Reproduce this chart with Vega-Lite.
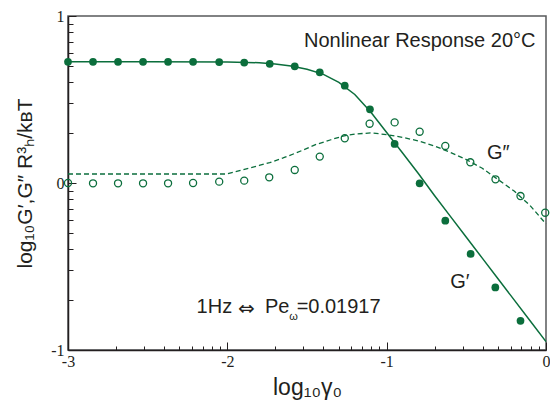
{
  "$schema": "https://vega.github.io/schema/vega-lite/v6.json",
  "width": 478,
  "height": 334,
  "autosize": {"type": "none"},
  "padding": {"left": 68, "top": 16, "right": 4, "bottom": 51},
  "background": "white",
  "config": {
    "view": {"stroke": "#58595b", "strokeWidth": 1.5},
    "axis": {
      "grid": false,
      "labelFont": "Liberation Serif",
      "labelFontSize": 16,
      "labelColor": "#231f20",
      "titleFont": "Liberation Sans",
      "titleFontSize": 23,
      "titleFontWeight": "normal",
      "titleColor": "#231f20",
      "domainColor": "#231f20",
      "domainWidth": 1.5,
      "tickColor": "#231f20",
      "tickWidth": 1
    }
  },
  "resolve": {"axis": {"x": "independent", "y": "independent"}},
  "datasets": {
    "gp": [
      {"x": -3.0, "y": 0.726}, {"x": -2.843, "y": 0.726}, {"x": -2.686, "y": 0.726},
      {"x": -2.529, "y": 0.726}, {"x": -2.372, "y": 0.726}, {"x": -2.215, "y": 0.726},
      {"x": -2.051, "y": 0.724}, {"x": -1.894, "y": 0.721}, {"x": -1.734, "y": 0.714},
      {"x": -1.577, "y": 0.699}, {"x": -1.42, "y": 0.663}, {"x": -1.263, "y": 0.583},
      {"x": -1.105, "y": 0.441}, {"x": -0.95, "y": 0.234}, {"x": -0.793, "y": -0.002},
      {"x": -0.632, "y": -0.226}, {"x": -0.473, "y": -0.425}, {"x": -0.318, "y": -0.625},
      {"x": -0.16, "y": -0.825}
    ],
    "gpp": [
      {"x": -3.0, "y": 0.0}, {"x": -2.843, "y": -0.002}, {"x": -2.686, "y": -0.002},
      {"x": -2.529, "y": -0.002}, {"x": -2.372, "y": -0.002}, {"x": -2.215, "y": 0.0},
      {"x": -2.051, "y": 0.008}, {"x": -1.894, "y": 0.014}, {"x": -1.737, "y": 0.034},
      {"x": -1.577, "y": 0.078}, {"x": -1.42, "y": 0.158}, {"x": -1.263, "y": 0.268},
      {"x": -1.107, "y": 0.355}, {"x": -0.95, "y": 0.363}, {"x": -0.793, "y": 0.307},
      {"x": -0.632, "y": 0.222}, {"x": -0.475, "y": 0.124}, {"x": -0.317, "y": 0.022},
      {"x": -0.16, "y": -0.078}, {"x": -0.005, "y": -0.178}
    ],
    "gpfit": [
      {"x": -3.0, "y": 0.726}, {"x": -2.5, "y": 0.726}, {"x": -2.0, "y": 0.725},
      {"x": -1.8, "y": 0.72}, {"x": -1.7, "y": 0.713}, {"x": -1.6, "y": 0.701},
      {"x": -1.5, "y": 0.681}, {"x": -1.4, "y": 0.652}, {"x": -1.3, "y": 0.603},
      {"x": -1.2, "y": 0.53}, {"x": -1.1, "y": 0.425}, {"x": -1.0, "y": 0.302},
      {"x": -0.9, "y": 0.18}, {"x": -0.8, "y": 0.055}, {"x": -0.7, "y": -0.075},
      {"x": -0.6, "y": -0.2}, {"x": -0.5, "y": -0.325}, {"x": -0.4, "y": -0.45},
      {"x": -0.3, "y": -0.575}, {"x": -0.2, "y": -0.7}, {"x": -0.1, "y": -0.825},
      {"x": 0.0, "y": -0.95}
    ],
    "gppfit": [
      {"x": -3.0, "y": 0.054}, {"x": -2.5, "y": 0.054}, {"x": -2.005, "y": 0.054},
      {"x": -1.9, "y": 0.08}, {"x": -1.8, "y": 0.105}, {"x": -1.734, "y": 0.122},
      {"x": -1.65, "y": 0.15}, {"x": -1.566, "y": 0.181}, {"x": -1.5, "y": 0.207},
      {"x": -1.44, "y": 0.232}, {"x": -1.35, "y": 0.259}, {"x": -1.274, "y": 0.281},
      {"x": -1.2, "y": 0.293}, {"x": -1.1, "y": 0.3}, {"x": -1.0, "y": 0.29},
      {"x": -0.9, "y": 0.273}, {"x": -0.8, "y": 0.252}, {"x": -0.7, "y": 0.222},
      {"x": -0.6, "y": 0.183}, {"x": -0.5, "y": 0.14}, {"x": -0.4, "y": 0.088},
      {"x": -0.3, "y": 0.02}, {"x": -0.2, "y": -0.048}, {"x": -0.1, "y": -0.135},
      {"x": 0.0, "y": -0.245}
    ],
    "notesLeft": [
      {"x": -0.371, "y": 0.144, "text": "G″"},
      {"x": -0.601, "y": -0.631, "text": "G′"},
      {"x": -2.193, "y": -0.78, "text": "1Hz"},
      {"x": -1.764, "y": -0.78, "text": "Pe"}
    ],
    "notesRight": [
      {"x": -0.066, "y": 0.816, "text": "Nonlinear Response 20°C"},
      {"x": -1.038, "y": -0.78, "text": "=0.01917"}
    ],
    "notesArrow": [
      {"x": -1.88, "y": -0.756, "text": "⇔"}
    ],
    "notesSub": [
      {"x": -1.584, "y": -0.818, "text": "ω"}
    ]
  },
  "layer": [
    {
      "data": {"name": "gppfit"},
      "mark": {"type": "line", "color": "#0b6e3c", "strokeWidth": 1.3, "strokeDash": [5, 3], "clip": false},
      "encoding": {
        "x": {
          "field": "x", "type": "quantitative",
          "scale": {"domain": [-3, 0], "nice": false, "zero": false},
          "axis": {
            "orient": "bottom",
            "title": "log₁₀γ₀",
            "values": [-3, -2, -1, 0],
            "labelExpr": "'' + datum.value",
            "ticks": false,
            "labelPadding": 3,
            "labelFlush": false,
            "labelOverlap": false,
            "titlePadding": 7
          }
        },
        "y": {
          "field": "y", "type": "quantitative",
          "scale": {"domain": [-1, 1], "nice": false, "zero": false},
          "axis": {
            "orient": "left",
            "title": "log₁₀G′,G″ R³ₕ/kʙT",
            "titleFontSize": 21,
            "values": [-1, 0, 1],
            "labelExpr": "'' + datum.value",
            "ticks": false,
            "labelPadding": 4,
            "labelFlush": false,
            "labelOverlap": false,
            "titlePadding": 15
          }
        }
      }
    },
    {
      "data": {"name": "gpfit"},
      "mark": {"type": "line", "color": "#0b6e3c", "strokeWidth": 1.5, "clip": false},
      "encoding": {
        "x": {
          "field": "x", "type": "quantitative",
          "axis": {
            "orient": "top", "offset": -334, "title": null, "labels": false, "domain": false,
            "values": [-3, -2, -1, 0], "tickSize": 8
          }
        },
        "y": {
          "field": "y", "type": "quantitative",
          "axis": {
            "orient": "right", "offset": -478, "title": null, "labels": false, "domain": false,
            "values": [-1, 0, 1], "tickSize": 8
          }
        }
      }
    },
    {
      "data": {"name": "gpp"},
      "mark": {"type": "point", "shape": "circle", "filled": false, "color": "#0b6e3c", "strokeWidth": 1.3, "size": 50, "opacity": 1, "clip": false},
      "encoding": {
        "x": {
          "field": "x", "type": "quantitative",
          "axis": {
            "orient": "top", "offset": -334, "title": null, "labels": false, "domain": false,
            "values": [-2.69897, -2.52288, -2.39794, -2.30103, -2.22185, -2.1549, -2.09691, -2.04576,
                       -1.69897, -1.52288, -1.39794, -1.30103, -1.22185, -1.1549, -1.09691, -1.04576,
                       -0.69897, -0.52288, -0.39794, -0.30103, -0.22185, -0.1549, -0.09691, -0.04576],
            "tickSize": 4
          }
        },
        "y": {
          "field": "y", "type": "quantitative",
          "axis": {
            "orient": "right", "offset": -478, "title": null, "labels": false, "domain": false,
            "values": [-0.69897, -0.52288, -0.39794, -0.30103, -0.22185, -0.1549, -0.09691, -0.04576,
                       0.30103, 0.47712, 0.60206, 0.69897, 0.77815, 0.8451, 0.90309, 0.95424],
            "tickSize": 5
          }
        }
      }
    },
    {
      "data": {"name": "gp"},
      "mark": {"type": "point", "shape": "circle", "filled": true, "color": "#0b6e3c", "size": 60, "opacity": 1, "clip": false},
      "encoding": {
        "x": {"field": "x", "type": "quantitative", "axis": null},
        "y": {"field": "y", "type": "quantitative", "axis": null}
      }
    },
    {
      "data": {"name": "notesLeft"},
      "mark": {"type": "text", "font": "Liberation Sans", "fontSize": 20, "color": "#231f20", "align": "left", "baseline": "alphabetic"},
      "encoding": {
        "x": {"field": "x", "type": "quantitative", "axis": null},
        "y": {"field": "y", "type": "quantitative", "axis": null},
        "text": {"field": "text"}
      }
    },
    {
      "data": {"name": "notesRight"},
      "mark": {"type": "text", "font": "Liberation Sans", "fontSize": 20, "color": "#231f20", "align": "right", "baseline": "alphabetic"},
      "encoding": {
        "x": {"field": "x", "type": "quantitative", "axis": null},
        "y": {"field": "y", "type": "quantitative", "axis": null},
        "text": {"field": "text"}
      }
    },
    {
      "data": {"name": "notesArrow"},
      "mark": {"type": "text", "font": "DejaVu Sans", "fontSize": 20, "color": "#231f20", "align": "center", "baseline": "middle"},
      "encoding": {
        "x": {"field": "x", "type": "quantitative", "axis": null},
        "y": {"field": "y", "type": "quantitative", "axis": null},
        "text": {"field": "text"}
      }
    },
    {
      "data": {"name": "notesSub"},
      "mark": {"type": "text", "font": "Liberation Sans", "fontSize": 11, "color": "#231f20", "align": "center", "baseline": "alphabetic"},
      "encoding": {
        "x": {"field": "x", "type": "quantitative", "axis": null},
        "y": {"field": "y", "type": "quantitative", "axis": null},
        "text": {"field": "text"}
      }
    }
  ]
}
